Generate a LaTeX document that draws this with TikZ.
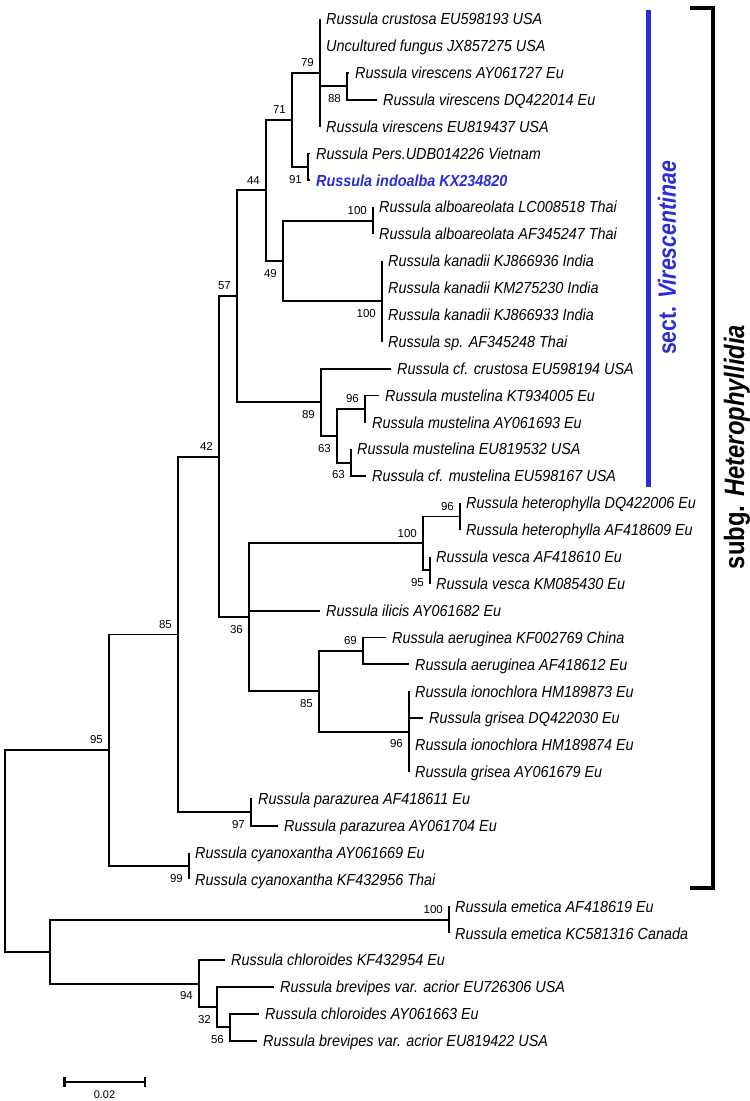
\documentclass[tikz,border=0pt]{standalone}
\usepackage{fontspec}
\setmainfont{Liberation Sans}
\newfontfamily\leaffont[FakeStretch=0.9]{Liberation Sans}
\newfontfamily\cladefont[FakeStretch=0.85]{Liberation Sans}
\usetikzlibrary{calc,arrows.meta}
\definecolor{SectBlue}{HTML}{2B2BD9}

\begin{document}
\begin{tikzpicture}[x=1pt, y=-1pt,
    declare function={row(\r)=19+(\r-1)*26.89;},
    branch/.style={line width=1.9pt},
    leaf/.style={anchor=west, inner xsep=6pt, inner ysep=0pt, text height=11.5pt, text depth=0pt,
      font=\leaffont\fontsize{16}{18}\selectfont\itshape},
    boot/.style={inner sep=0pt, font=\fontsize{11.5}{12}\selectfont, xshift=-6pt},
    bup/.style={boot, anchor=south east, yshift=6pt},
    bdn/.style={boot, anchor=north east, yshift=-8pt}]
  \path[use as bounding box] (0,0) rectangle (750,1101);
  % taxa: row / tip x / label
  \foreach \r/\tx/\taxon in {
      1/320/{Russula crustosa EU598193 USA},
      2/320/{Uncultured fungus JX857275 USA},
      3/349/{Russula virescens AY061727 Eu},
      4/377/{Russula virescens DQ422014 Eu},
      5/320/{Russula virescens EU819437 USA},
      6/310/{Russula Pers.UDB014226 Vietnam},
      7/310/{\bfseries\color{SectBlue}Russula indoalba KX234820},
      8/373/{Russula alboareolata LC008518 Thai},
      9/373/{Russula alboareolata AF345247 Thai},
      10/382/{Russula kanadii KJ866936 India},
      11/382/{Russula kanadii KM275230 India},
      12/382/{Russula kanadii KJ866933 India},
      13/382/{Russula sp. AF345248 Thai},
      14/391/{Russula cf. crustosa EU598194 USA},
      15/379/{Russula mustelina KT934005 Eu},
      16/366/{Russula mustelina AY061693 Eu},
      17/351/{Russula mustelina EU819532 USA},
      18/366/{Russula cf. mustelina EU598167 USA},
      19/460/{Russula heterophylla DQ422006 Eu},
      20/460/{Russula heterophylla AF418609 Eu},
      21/430/{Russula vesca AF418610 Eu},
      22/430/{Russula vesca KM085430 Eu},
      23/320/{Russula ilicis AY061682 Eu},
      24/386/{Russula aeruginea KF002769 China},
      25/409/{Russula aeruginea AF418612 Eu},
      26/409/{Russula ionochlora HM189873 Eu},
      27/423/{Russula grisea DQ422030 Eu},
      28/409/{Russula ionochlora HM189874 Eu},
      29/409/{Russula grisea AY061679 Eu},
      30/252/{Russula parazurea AF418611 Eu},
      31/278/{Russula parazurea AY061704 Eu},
      32/189/{Russula cyanoxantha AY061669 Eu},
      33/189/{Russula cyanoxantha KF432956 Thai},
      34/449/{Russula emetica AF418619 Eu},
      35/449/{Russula emetica KC581316 Canada},
      36/225/{Russula chloroides KF432954 Eu},
      37/274/{Russula brevipes var. acrior EU726306 USA},
      38/259/{Russula chloroides AY061663 Eu},
      39/257/{Russula brevipes var. acrior EU819422 USA}}
  {
    \coordinate (c\r) at (\tx,{row(\r)});
    \node[leaf] (t\r) at (c\r) {\taxon};
  }
  % inner nodes: name / x / row
  \foreach \n/\nx/\r in {n79/320/3, n88/347/3.5, n91/308/6.5, n71/292/4.75,
      nAlb/373/8.5, nKan/382/11.5, n49/283/10, n44/266/7.375,
      n96m/365/15.5, n63b/351/17.5, n63a/337/16.5, n89/321/15.25, n57/237/11.3125,
      n96h/460/19.5, n95v/430/21.5, n100h/423/20.5, n69/363/24.5, n96i/409/27.5,
      n85i/319/26, n36/249/23.25, n42/219/17.28125, n97/251/30.5, n85o/178/23.890625,
      n99/189/32.5, n95o/109/28.1953, nEme/449/34.5, n56/230/38.5, n32/217/37.75,
      n94/199/36.875, nOut/50/35.6875, root/5/31.9414}
    \coordinate (\n) at (\nx,{row(\r)});
  \foreach \a/\b in {n79/c1, n79/c2, n79/n88, n79/c5, n88/c3, n88/c4, n91/c6, n91/c7,
      n71/n79, n71/n91, n44/n71, n44/n49, n49/nAlb, n49/nKan, nAlb/c8, nAlb/c9,
      nKan/c10, nKan/c11, nKan/c12, nKan/c13, n57/n44, n57/n89, n89/c14, n89/n63a,
      n63a/n96m, n63a/n63b, n96m/c15, n96m/c16, n63b/c17, n63b/c18, n42/n57, n42/n36,
      n36/n100h, n36/c23, n36/n85i, n100h/n96h, n100h/n95v, n96h/c19, n96h/c20,
      n95v/c21, n95v/c22, n85i/n69, n85i/n96i, n69/c24, n69/c25, n96i/c26, n96i/c27,
      n96i/c28, n96i/c29, n85o/n42, n85o/n97, n97/c30, n97/c31, n95o/n85o, n95o/n99,
      n99/c32, n99/c33, root/n95o, root/nOut, nOut/nEme, nOut/n94, nEme/c34, nEme/c35,
      n94/c36, n94/n32, n32/c37, n32/n56, n56/c38, n56/c39}
    \draw[branch] (\a) |- (\b);
  % bootstrap values
  \foreach \n/\v/\s in {n79/79/bup, n88/88/bdn, n91/91/bdn, n71/71/bup, n44/44/bup,
      n49/49/bdn, nAlb/100/bup, nKan/100/bdn, n57/57/bup, n89/89/bdn, n63a/63/bdn,
      n96m/96/bup, n63b/63/bdn, n42/42/bup, n100h/100/bup, n96h/96/bup, n95v/95/bdn,
      n36/36/bdn, n69/69/bup, n85i/85/bdn, n96i/96/bdn, n85o/85/bup, n95o/95/bup,
      n97/97/bdn, n99/99/bdn, nEme/100/bup, n94/94/bdn, n32/32/bdn, n56/56/bdn}
    \node[\s] (b\n) at (\n) {\v};
  % clades
  \draw[SectBlue, line width=5pt] (648,10) -- (648,487);
  \node[rotate=90, text=SectBlue, font=\cladefont\fontsize{25}{27}\selectfont\bfseries] (sect) at (667,258) {sect. \textit{Virescentinae}};
  \draw[line width=4.5pt] (690,8) -- (713,8) -- (713,888) -- (690,888);
  \node[rotate=90, font=\cladefont\fontsize{28}{30}\selectfont\bfseries] (subg) at (737,447) {subg. \textit{Heterophyllidia}};
  % scale bar
  \coordinate (s0) at (63,1082);
  \coordinate (s1) at (146,1082);
  \draw[line width=2.5pt, {Bar[width=10pt]}-{Bar[width=10pt]}] (s0) -- node[below=4pt, font=\fontsize{11}{12}\selectfont] (sbar) {0.02} (s1);
\end{tikzpicture}
\end{document}
